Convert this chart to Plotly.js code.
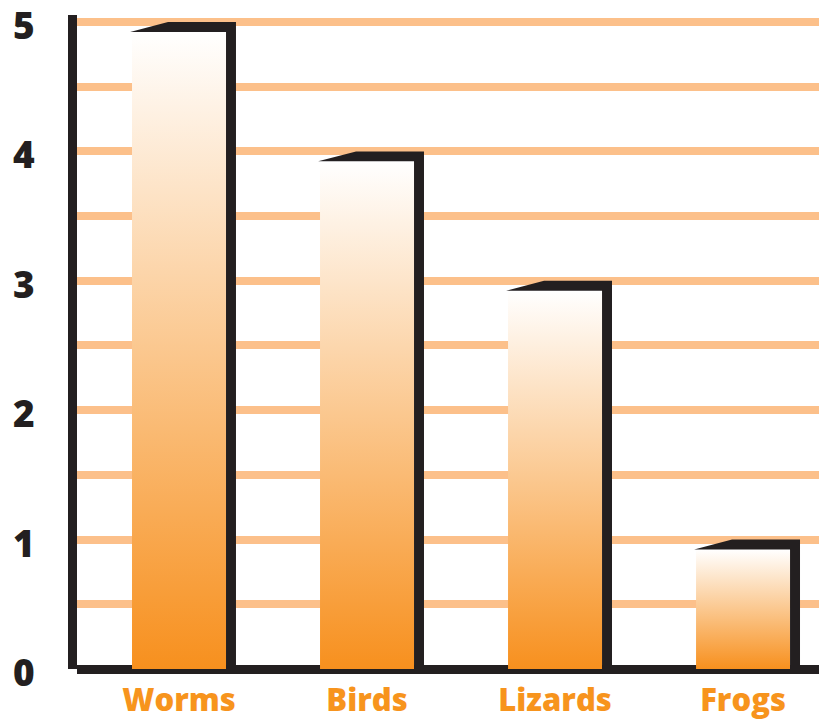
<!DOCTYPE html>
<html>
<head>
<meta charset="utf-8">
<script src="https://cdn.plot.ly/plotly-3.0.1.min.js"></script>
<style>html,body{margin:0;padding:0;background:#fff;}#chart{width:819px;height:719px;}</style>
</head>
<body>
<div id="chart"></div>
<script>
// ---- data ----
const categories = ["Worms", "Birds", "Lizards", "Frogs"];
const values = [5, 4, 3, 1];
const yTickValues = [0, 1, 2, 3, 4, 5];
const yTickLabels = ["0", "1", "2", "3", "4", "5"];

// ---- style constants (data units) ----
const HALF = 0.25;       // half width of the gradient face
const EDGE = 0.053;      // right black side
const CAP = 0.077;       // black top cap thickness
const SLANT_L = 0.26;    // slanted cap left start
const SLANT_T = 0.0585;  // slanted cap top start (left of centre)
const BLACK = "#231f20";
const ORANGE = "#f7941d";

const traces = [];
categories.forEach((cat, i) => {
  const v = values[i];
  const top = v - CAP;
  // gradient face
  traces.push({
    type: "scatter", mode: "lines", hoverinfo: "skip", showlegend: false,
    x: [i - HALF, i + HALF, i + HALF, i - HALF, i - HALF],
    y: [0, 0, top, top, 0],
    fill: "toself",
    line: {width: 0, color: "rgba(0,0,0,0)"},
    fillgradient: {type: "vertical", colorscale: [[0, "#f7901e"], [1, "#ffffff"]]}
  });
  // black 3D frame (cap + right side)
  traces.push({
    type: "scatter", mode: "lines", hoverinfo: "skip", showlegend: false,
    x: [i - SLANT_L, i - SLANT_T, i + HALF + EDGE, i + HALF + EDGE, i + HALF, i + HALF, i - SLANT_L],
    y: [top, v, v, 0, 0, top, top],
    fill: "toself", fillcolor: BLACK,
    line: {width: 0, color: BLACK}
  });
});

const layout = {
  width: 819, height: 719,
  margin: {l: 77, r: 0, t: 15, b: 50},
  paper_bgcolor: "#ffffff", plot_bgcolor: "#ffffff",
  showlegend: false,
  xaxis: {
    type: "linear",
    range: [-0.5426, 3.404],
    tickvals: categories.map((c, i) => i),
    ticktext: categories,
    showgrid: false, zeroline: false, showline: false,
    ticks: "", ticklabelstandoff: 10,
    tickfont: {family: "Open Sans", size: 31, color: ORANGE, weight: 800}
  },
  yaxis: {
    range: [0, 5.054],
    tickvals: yTickValues, ticktext: yTickLabels,
    showgrid: true, gridcolor: "#fcc08a", gridwidth: 8,
    minor: {dtick: 0.5, showgrid: true, gridcolor: "#fcc08a", gridwidth: 8},
    zeroline: true, zerolinecolor: BLACK, zerolinewidth: 9,
    showline: true, linecolor: BLACK, linewidth: 9,
    ticks: "", ticklabelstandoff: 26, ticklabeloverflow: "allow", ticklabelshift: 4,
    tickfont: {family: "Open Sans", size: 37, color: BLACK, weight: 800}
  }
};

Plotly.newPlot("chart", traces, layout, {staticPlot: true, displayModeBar: false});
</script>
</body>
</html>
